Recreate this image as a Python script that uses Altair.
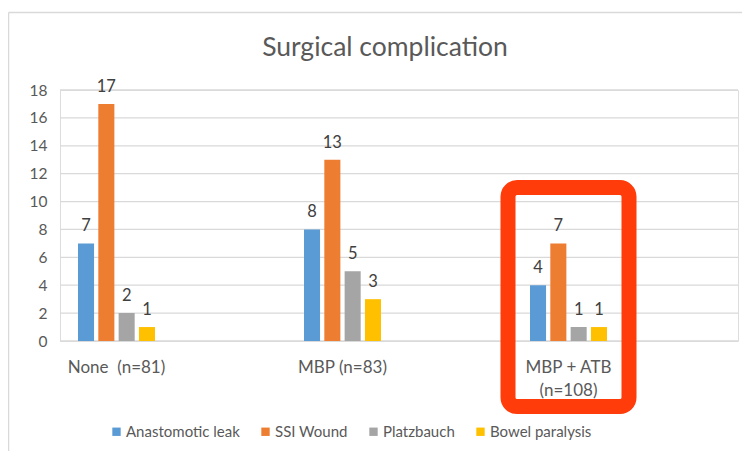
import altair as alt
import pandas as pd

categories = ["None\u00a0 (n=81)", "MBP (n=83)", "MBP + ATB|(n=108)"]
series = ["Anastomotic leak", "SSI Wound", "Platzbauch", "Bowel paralysis"]
colors = ["#5b9bd5", "#ed7d31", "#a5a5a5", "#ffc000"]
anastomotic_leak = [7, 8, 4]
ssi_wound = [17, 13, 7]
platzbauch = [2, 5, 1]
bowel_paralysis = [1, 3, 1]
y_ticks = [0, 2, 4, 6, 8, 10, 12, 14, 16, 18]

# highlight annotation around the third group (in data units)
highlight_category = "MBP + ATB|(n=108)"
highlight_top = 11.0
highlight_bottom = -4.7

rows = []
for s, vals in zip(series, [anastomotic_leak, ssi_wound, platzbauch, bowel_paralysis]):
    for c, v in zip(categories, vals):
        rows.append({"group": c, "series": s, "value": v})
df = pd.DataFrame(rows)
ticks_df = pd.DataFrame({"tick": y_ticks})

FONT = "Lato"
GRAY = "#595959"

x_scale = alt.Scale(domain=categories, range=[-56.5, 621.5], paddingInner=0, paddingOuter=0)
y_scale = alt.Scale(domain=[0, 18], nice=False)

x_axis = alt.Axis(title=None, labelExpr="split(datum.label, '|')", labelAngle=0,
                  labelFontSize=17, labelColor=GRAY, labelFont=FONT,
                  labelPadding=18, labelLineHeight=23, ticks=False, domain=False)
y_axis = alt.Axis(title=None, values=y_ticks, labelFontSize=15.5, labelColor=GRAY,
                  labelFont=FONT, labelPadding=13, ticks=False, domain=False,
                  labelOverlap=False, grid=False)

x_enc = alt.X("group:N", sort=categories, scale=x_scale, axis=x_axis)
y_enc = alt.Y("value:Q", scale=y_scale, axis=y_axis)
xoff = alt.XOffset("series:N", sort=series,
                   scale=alt.Scale(domain=series, range=[74.5, 151.5], paddingInner=0.21, paddingOuter=0))

grid = alt.Chart(ticks_df).mark_rule(color="#d9d9d9", strokeWidth=1.3).encode(
    y=alt.Y("tick:Q", scale=y_scale, axis=y_axis),
    x=alt.value(0), x2=alt.value(678),
)

bars = alt.Chart(df).mark_bar().encode(
    x=x_enc, y=y_enc, xOffset=xoff,
    color=alt.Color("series:N", sort=series,
                    scale=alt.Scale(domain=series, range=colors),
                    legend=alt.Legend(title=None, orient="none", legendX=49, legendY=334,
                                      direction="horizontal", columns=4, symbolType="square",
                                      symbolSize=70, symbolStrokeWidth=0, labelFontSize=15,
                                      labelColor=GRAY, labelFont=FONT, columnPadding=18,
                                      labelOffset=2)),
)

labels = alt.Chart(df).mark_text(baseline="bottom", dy=-9, fontSize=16.5, color="#404040", font=FONT).encode(
    x=x_enc, y=y_enc, xOffset=xoff, text="value:Q",
)

box_df = pd.DataFrame([{"group": highlight_category, "top": highlight_top, "bottom": highlight_bottom}])
box = alt.Chart(box_df).mark_bar(width=121, fill=None, fillOpacity=0, stroke="#ff3c0a",
                                 strokeWidth=15, cornerRadius=9, clip=False).encode(
    x=x_enc,
    y=alt.Y("top:Q", scale=y_scale, axis=y_axis),
    y2="bottom:Q",
)

frame_top = alt.Chart(alt.Data(values=[{}])).mark_rule(stroke="#d9d9d9", strokeWidth=1.5).encode(
    x=alt.value(-51.5), x2=alt.value(700), y=alt.value(-77.5)
)
frame_left = alt.Chart(alt.Data(values=[{}])).mark_rule(stroke="#d9d9d9", strokeWidth=1.5).encode(
    x=alt.value(-51.5), y=alt.value(-77.5), y2=alt.value(370)
)

chart = alt.layer(frame_top, frame_left, grid, bars, labels, box).properties(
    width=678, height=251,
    title=alt.Title("Surgical complication", fontSize=26.5, font=FONT, fontWeight="normal",
                    color=GRAY, anchor="middle", frame="group", dx=-14, offset=-77,
                    baseline="bottom"),
    autosize=alt.AutoSizeParams(type="none"),
    padding={"left": 52, "top": 82, "right": 4, "bottom": 110},
).configure_view(stroke=None).configure(font=FONT)

chart.save("out.html", embed_options={"renderer": "svg", "actions": False})
